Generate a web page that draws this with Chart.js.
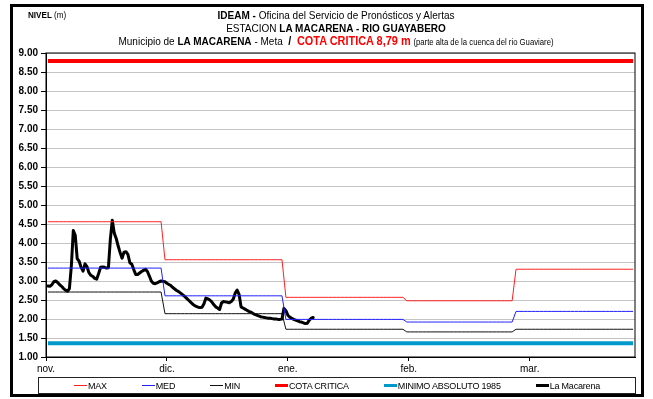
<!DOCTYPE html>
<html>
<head>
<meta charset="utf-8">
<script src="https://cdn.jsdelivr.net/npm/chart.js@4.4.0/dist/chart.umd.min.js"></script>
<style>
  body { margin: 0; background: #fff; font-family: 'Liberation Sans', Arial, sans-serif; }
  #wrap { position: relative; width: 653px; height: 399px; overflow: hidden; }
  #frame { position: absolute; left: 10px; top: 4px; width: 634px; height: 393px; border: 3px solid #000; box-sizing: border-box; }
  canvas { position: absolute; left: 0; top: 0; }
  .unit { position: absolute; left: 28px; top: 10px; font-size: 9px; transform: scaleX(0.9); transform-origin: left center; }
  .title { position: absolute; left: 36px; width: 600px; top: 9px; text-align: center; font-size: 11px; line-height: 13px; color: #000;
           transform: scaleX(0.91); transform-origin: center; }
  .title .big { font-size: 12px; }
  .title .red { color: #ff0000; font-size: 12px; }
  .title .small { font-size: 8.5px; }
  #legend { position: absolute; left: 38px; top: 377px; width: 598px; height: 17px; border: 1px solid #222; box-sizing: border-box;
            display: flex; justify-content: space-evenly; align-items: center; font-size: 9px; letter-spacing: -0.2px; }
  #legend span.item { display: flex; align-items: center; }
  #legend i { display: inline-block; width: 13px; margin-right: 1px; }
</style>
</head>
<body>
<div id="wrap">
  <div id="frame"></div>
  <canvas id="nivelChart" width="653" height="399"></canvas>
  <div class="unit"><b>NIVEL</b> (m)</div>
  <div class="title">
    <div><b>IDEAM -</b> Oficina del Servicio de Pronósticos y Alertas</div>
    <div>ESTACION <b>LA MACARENA - RIO GUAYABERO</b></div>
    <div>Municipio de <b>LA MACARENA</b> - Meta &nbsp;<b class="big">/</b>&nbsp; <b class="red" id="cota-text"></b> <span class="small">(parte alta de la cuenca del rio Guaviare)</span></div>
  </div>
  <div id="legend"></div>
</div>
<script>
// months on the axis and their length in days (nov..mar)
const monthLabels = ['nov.', 'dic.', 'ene.', 'feb.', 'mar.'];
const monthDays = [30, 31, 31, 28, 31];
// axis label every 31 days
const labelEvery = 31;

// monthly statistics of the level (m)
const maxLevels = [4.56, 3.56, 2.57, 2.48, 3.31];
const medLevels = [3.34, 2.61, 1.99, 1.92, 2.20];
const minLevels = [2.71, 2.14, 1.73, 1.66, 1.73];

const cotaCritica = 8.79;
const minimoAbsoluto = 1.36;

// La Macarena readings, two per day starting nov 1
const readingsPerDay = 2;
const nivelLaMacarena = [
  2.87, 2.86, 2.90, 2.98, 3.00, 2.96, 2.90, 2.86, 2.80, 2.76,
  2.73, 2.80, 3.40, 4.33, 4.20, 3.59, 3.52, 3.36, 3.26, 3.45,
  3.38, 3.22, 3.15, 3.12, 3.07, 3.05, 3.20, 3.36, 3.37, 3.36,
  3.34, 3.35, 4.10, 4.60, 4.26, 4.12, 3.92, 3.75, 3.60, 3.76,
  3.77, 3.70, 3.48, 3.44, 3.30, 3.17, 3.17, 3.21, 3.25, 3.28,
  3.31, 3.25, 3.13, 3.00, 2.94, 2.93, 2.95, 2.98, 3.00, 2.99,
  2.98, 2.94, 2.91, 2.88, 2.83, 2.79, 2.75, 2.72, 2.68, 2.64,
  2.60, 2.55, 2.50, 2.45, 2.40, 2.36, 2.33, 2.31, 2.30, 2.31,
  2.40, 2.55, 2.53, 2.50, 2.45, 2.38, 2.32, 2.29, 2.25, 2.42,
  2.46, 2.45, 2.44, 2.43, 2.46, 2.52, 2.68, 2.76, 2.65, 2.32,
  2.29, 2.26, 2.23, 2.20, 2.18, 2.15, 2.12, 2.10, 2.08, 2.06,
  2.05, 2.04, 2.03, 2.02, 2.02, 2.01, 2.00, 2.00, 1.99, 1.99,
  2.00, 2.28, 2.22, 2.10, 2.05, 2.02, 1.99, 1.97, 1.95, 1.93,
  1.92, 1.90, 1.88, 1.89, 1.97, 2.02, 2.04
];

const totalDays = monthDays.reduce((a, b) => a + b, 0);

// one value per day for each monthly statistic
function dailySeries(levels) {
  let out = [];
  levels.forEach((v, m) => {
    for (let d = 0; d < monthDays[m]; d++) out.push({ x: out.length, y: v });
  });
  return out;
}

function flatSeries(v) {
  return [{ x: 0, y: v }, { x: totalDays - 1, y: v }];
}

document.getElementById('cota-text').textContent =
  'COTA CRITICA ' + cotaCritica.toFixed(2).replace('.', ',') + ' m';

Chart.defaults.font.family = "'Liberation Sans', Arial, sans-serif";
Chart.defaults.color = '#000';

// black frame round the plot area
const plotFrame = {
  id: 'plotFrame',
  afterDraw(chart) {
    const a = chart.chartArea, ctx = chart.ctx;
    ctx.save();
    ctx.strokeStyle = '#000';
    ctx.lineWidth = 1;
    ctx.strokeRect(a.left, a.top, a.right - a.left, a.bottom - a.top);
    ctx.restore();
  }
};

const datasets = [
  { label: 'MAX', data: dailySeries(maxLevels), borderColor: '#ff2020', borderWidth: 1, legendWidth: 1 },
  { label: 'MED', data: dailySeries(medLevels), borderColor: '#2020ff', borderWidth: 1, legendWidth: 1 },
  { label: 'MIN', data: dailySeries(minLevels), borderColor: '#111', borderWidth: 1, legendWidth: 1 },
  { label: 'COTA CRITICA', data: flatSeries(cotaCritica), borderColor: '#ff0000', borderWidth: 4, legendWidth: 3 },
  { label: 'MINIMO ABSOLUTO 1985', data: flatSeries(minimoAbsoluto), borderColor: '#0099cc', borderWidth: 4, legendWidth: 3 },
  { label: 'La Macarena', data: nivelLaMacarena.map((v, k) => ({ x: k / readingsPerDay, y: v })),
    borderColor: '#000', borderWidth: 3, legendWidth: 3, borderJoinStyle: 'round', borderCapStyle: 'round' }
];

let myChart = new Chart(document.getElementById('nivelChart'), {
  type: 'line',
  data: { datasets: datasets },
  plugins: [plotFrame],
  options: {
    responsive: false,
    animation: false,
    devicePixelRatio: 1,
    layout: { padding: { left: 0, top: 53, right: 18, bottom: 22 } },
    elements: { point: { radius: 0 }, line: { tension: 0 } },
    plugins: { legend: { display: false }, tooltip: { enabled: false } },
    scales: {
      x: {
        type: 'linear',
        min: -0.5,
        max: totalDays - 0.5,
        afterBuildTicks: (scale) => {
          scale.ticks = monthLabels.map((l, i) => ({ value: -0.5 + i * labelEvery }));
        },
        afterFit: (scale) => { scale.height = 20; },
        ticks: {
          callback: (value, index) => monthLabels[index],
          font: { size: 10 },
          padding: 2,
          maxRotation: 0,
          autoSkip: false
        },
        grid: { drawOnChartArea: false, tickLength: 4, color: '#000' },
        border: { color: '#000' }
      },
      y: {
        min: 1,
        max: 9,
        afterFit: (scale) => { scale.width = 46; },
        ticks: {
          stepSize: 0.5,
          callback: (value) => value.toFixed(2),
          font: { size: 10, weight: 'bold' },
          padding: 3
        },
        grid: { color: '#c4c4c4', borderDash: [1, 1], tickLength: 5, tickColor: '#000', tickBorderDash: [] },
        border: { color: '#000' }
      }
    }
  }
});

// legend row inside its box
const legend = document.getElementById('legend');
datasets.forEach(ds => {
  const item = document.createElement('span');
  item.className = 'item';
  item.innerHTML = `<i style="height:${ds.legendWidth}px;background:${ds.borderColor}"></i>${ds.label}`;
  legend.appendChild(item);
});
</script>
</body>
</html>
